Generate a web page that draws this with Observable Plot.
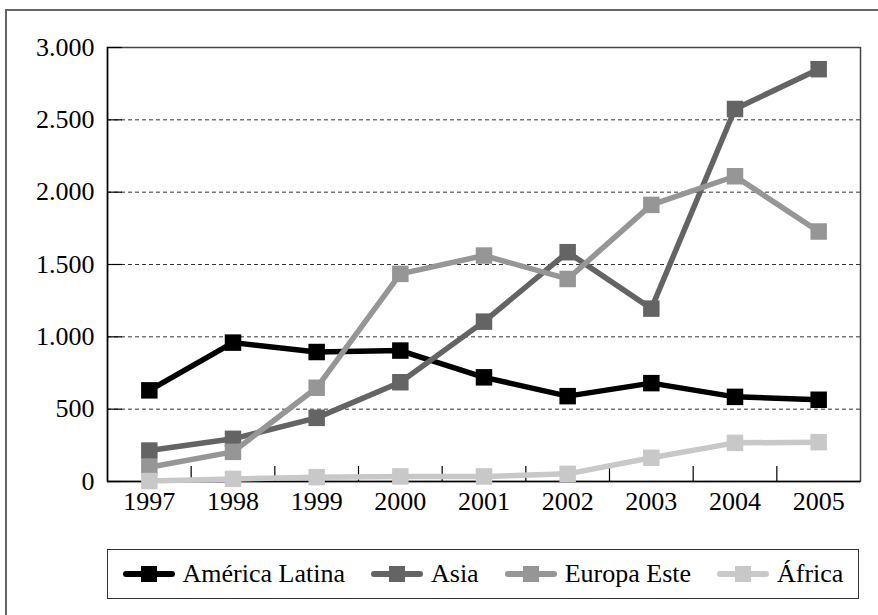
<!DOCTYPE html>
<html>
<head>
<meta charset="utf-8">
<script src="https://cdn.jsdelivr.net/npm/d3@7"></script>
<script src="https://cdn.jsdelivr.net/npm/@observablehq/plot@0.6"></script>
<style>
  html, body { margin: 0; padding: 0; background: #fff; overflow: hidden; width: 878px; height: 615px; }
  #outer { position: absolute; left: 5px; top: 9px; width: 890px; height: 620px; border: 2px solid #666; box-sizing: border-box; }
  #chart { position: absolute; left: 0; top: 0; }
  #legend { position: absolute; left: 107px; top: 549px; width: 752px; height: 50px; border: 1.5px solid #333; box-sizing: border-box;
    display: flex; align-items: center; justify-content: center; gap: 26px; font-family: "Liberation Serif", "Times New Roman", "DejaVu Serif", serif; font-size: 26px; color: #000; }
  .item { display: flex; align-items: center; gap: 8px; white-space: nowrap; }
  #chart svg text { font-family: "Liberation Serif", "Times New Roman", "DejaVu Serif", serif; }
</style>
</head>
<body>
<div id="outer"></div>
<div id="chart"></div>
<div id="legend"></div>
<script>
const years = [1997, 1998, 1999, 2000, 2001, 2002, 2003, 2004, 2005];
const seriesNames = ["América Latina", "Asia", "Europa Este", "África"];
const seriesColors = ["#000000", "#646464", "#969696", "#c8c8c8"];
const americaLatina = [630, 960, 895, 905, 720, 590, 680, 585, 565];
const asia = [214, 295, 440, 686, 1105, 1585, 1195, 2575, 2850];
const europaEste = [99, 205, 648, 1435, 1562, 1400, 1912, 2110, 1728];
const africa = [3, 18, 30, 35, 35, 53, 164, 267, 272];
const yTicks = [0, 500, 1000, 1500, 2000, 2500, 3000];

const seriesValues = [americaLatina, asia, europaEste, africa];
const data = seriesNames.flatMap((s, i) => years.map((y, j) => ({series: s, year: y, value: seriesValues[i][j]})));
const bounds = years.slice(0, -1).map(y => y + 0.5);

const locale = d3.formatLocale({decimal: ",", thousands: ".", grouping: [3], currency: ["", ""]});
const fmt = locale.format(",d");

const W = 878, H = 540, mL = 107, mR = 18, mT = 47, mB = 59;
const plotW = W - mL - mR, plotH = H - mT - mB;
const serif = "'Liberation Serif', 'Times New Roman', 'DejaVu Serif', serif";

const chart = Plot.plot({
  width: W, height: H,
  marginLeft: mL, marginRight: mR, marginTop: mT, marginBottom: mB,
  style: {fontFamily: serif, fontSize: "26px", color: "#000", background: "transparent"},
  x: {type: "linear", domain: [years[0] - 0.5, years[years.length - 1] + 0.5], label: null},
  y: {domain: [yTicks[0], yTicks[yTicks.length - 1]], label: null},
  color: {domain: seriesNames, range: seriesColors},
  marks: [
    Plot.ruleY(yTicks.slice(1), {y: d => d, stroke: "#333", strokeWidth: 1, strokeDasharray: "4,3"}),
    Plot.frame({stroke: "#444", strokeWidth: 1.5}),
    Plot.ruleY(yTicks, {y: d => d, stroke: "#000", strokeWidth: 1.2, insetRight: plotW - 15}),
    Plot.ruleX(bounds, {x: d => d, stroke: "#000", strokeWidth: 1.2, insetTop: plotH - 15}),
    Plot.ruleY([yTicks[0]], {stroke: "#000", strokeWidth: 1.5}),
    Plot.ruleX([years[0] - 0.5], {stroke: "#000", strokeWidth: 1.5}),
    ...seriesNames.flatMap(s => [
      Plot.line(data.filter(d => d.series === s), {x: "year", y: "value", stroke: "series", strokeWidth: 5.5, strokeLinejoin: "round"}),
      Plot.dot(data.filter(d => d.series === s), {x: "year", y: "value", fill: "series", symbol: "square", r: 9.3, stroke: null})
    ]),
    Plot.axisX({ticks: years, tickSize: 0, tickPadding: 10, tickFormat: d => String(d), fontSize: 26, label: null}),
    Plot.axisY({ticks: yTicks, tickSize: 0, tickPadding: 13, tickFormat: fmt, fontSize: 26, label: null})
  ]
});
document.getElementById("chart").appendChild(chart);

const legend = d3.select("#legend");
seriesNames.forEach((s, i) => {
  const item = legend.append("div").attr("class", "item");
  const sw = item.append("svg").attr("width", 52).attr("height", 20);
  sw.append("line").attr("x1", 3).attr("x2", 49).attr("y1", 10).attr("y2", 10)
    .attr("stroke", seriesColors[i]).attr("stroke-width", 6).attr("stroke-linecap", "round");
  sw.append("rect").attr("x", 18).attr("y", 2).attr("width", 16).attr("height", 16).attr("fill", seriesColors[i]);
  item.append("span").text(s);
});
</script>
</body>
</html>
